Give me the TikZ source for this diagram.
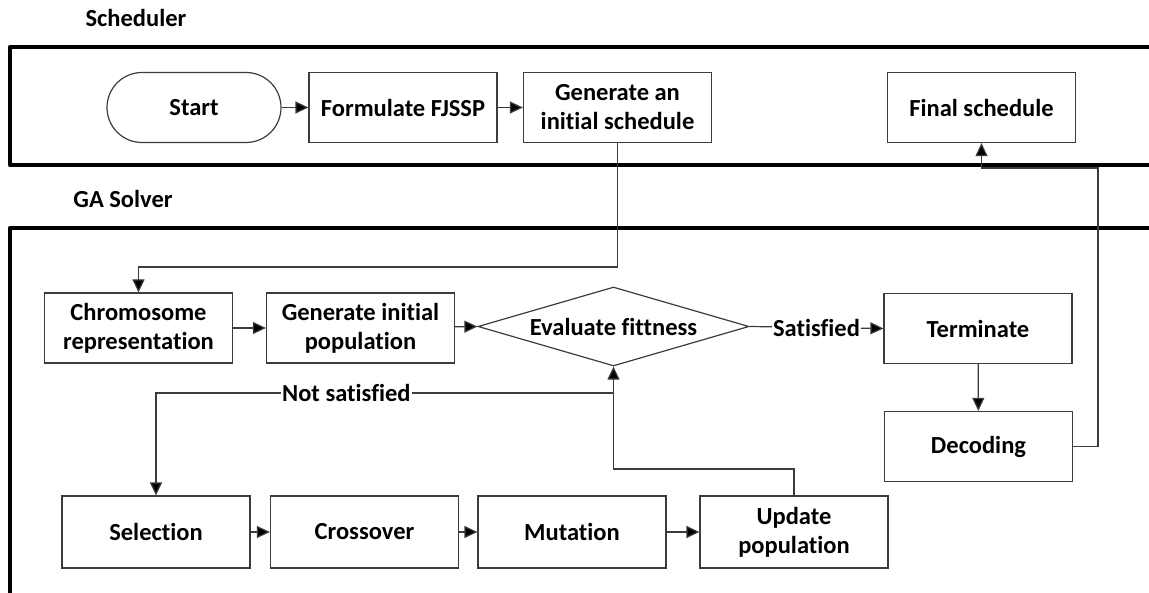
\documentclass[tikz,border=0pt]{standalone}
\usepackage{fontspec}
\setmainfont{Carlito}[Ligatures=CommonOff]
\usetikzlibrary{shapes.geometric,arrows.meta}
\definecolor{linegray}{RGB}{60,60,60}
\begin{document}
\begin{tikzpicture}[x=1bp,y=-1bp,
  txt/.style={font=\bfseries\fontsize{24.6}{29}\selectfont, text=black, align=center},
  box/.style={txt, draw=linegray, line width=1.2bp, minimum width=188bp, minimum height=70bp, inner sep=2bp},
  startbox/.style={box, minimum width=174bp, rounded corners=35bp},
  decide/.style={txt, diamond, draw=linegray, line width=1.2bp, aspect=3.43, inner sep=0pt,
                 minimum width=271bp, minimum height=79bp},
  lane/.style={line width=4.5bp, line join=round, draw=black},
  conn/.style={draw=linegray, line width=1.2bp},
  arr/.style={conn, -{Triangle[length=13bp,width=12bp,fill=black]}},
  lbl/.style={txt, fill=white, inner sep=1bp}
]
\useasboundingbox (0,0) rectangle (1149,593);

% swim lanes
\draw[lane] (1149,47) -- (10,47) -- (10,165) -- (1149,165);
\draw[lane] (1149,228) -- (10,228) -- (10,593);
\node[txt, anchor=base] (lanesched) at (136,27) {Scheduler};
\node[txt, anchor=base] (lanega) at (123,208) {GA Solver};

% scheduler steps
\node[startbox] (start) at (194,107.5) {Start};
\node[box] (formulate) at (403,107.5) {Formulate FJSSP};
\node[box] (initsched) at (617.5,107.5) {Generate an\\initial schedule};
\node[box] (final) at (981.5,107.5) {Final schedule};

% GA solver steps
\node[box] (chromo) at (138.5,328) {Chromosome\\representation};
\node[box] (genpop) at (360.5,328) {Generate initial\\population};
\node[decide] (eval) at (613.5,326.5) {Evaluate fittness};
\node[box] (term) at (978,328.5) {Terminate};
\node[box] (decode) at (978.5,446.5) {Decoding};
\node[box, minimum height=72bp] (select) at (156,532) {Selection};
\node[box, minimum height=72bp] (cross) at (364.5,532) {Crossover};
\node[box, minimum height=72bp] (mutate) at (572,532) {Mutation};
\node[box, minimum height=72bp] (update) at (794,532) {Update\\population};

% connectors
\draw[arr] (start) -- (formulate);
\draw[arr] (formulate) -- (initsched);
\draw[arr] (initsched.south) |- (138.5,267) -- (chromo.north);
\draw[arr] (chromo) -- (genpop);
\draw[arr] (genpop) -- (eval.west);
\draw[arr] (eval.east) -- node[lbl] {Satisfied} (term.west);
\draw[arr] (term) -- (decode);
\draw[arr] (decode.east) -| (1098,168) -| (final.south);
\draw[arr] (eval.south) -- (eval.south |- 0,393)
  -- node[lbl, pos=0.584] {Not satisfied} (select.north |- 0,393) -- (select.north);
\draw[arr] (select) -- (cross);
\draw[arr] (cross) -- (mutate);
\draw[arr] (mutate) -- (update);
\draw[arr] (update.north) -- (update.north |- 0,469) -| (eval.south);
\end{tikzpicture}
\end{document}
